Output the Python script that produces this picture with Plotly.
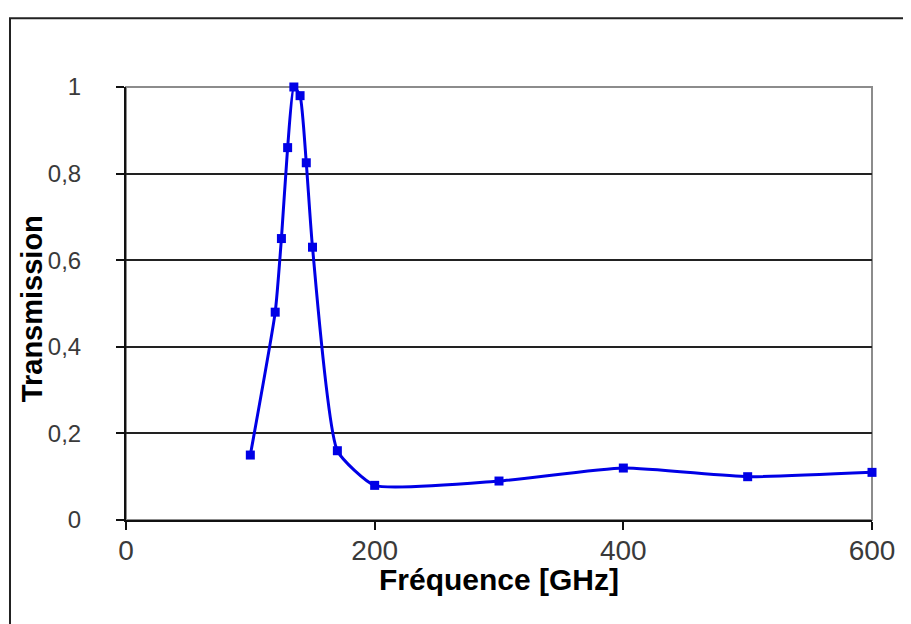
"""Transmission vs frequency — smoothed line with square markers."""

import plotly.graph_objects as go

freq_ghz = [100, 120, 125, 130, 135, 140, 145, 150, 170, 200, 300, 400, 500, 600]
transmission = [0.15, 0.48, 0.65, 0.86, 1.0, 0.98, 0.825, 0.63, 0.16, 0.08, 0.09, 0.12, 0.10, 0.11]

x_ticks = [0, 200, 400, 600]
y_ticks = [0, 0.2, 0.4, 0.6, 0.8, 1]

fig = go.Figure()

fig.add_trace(go.Scatter(
    x=freq_ghz, y=transmission, mode="lines+markers",
    line={"color": "#0000E6", "width": 3, "shape": "spline", "smoothing": 0.5},
    marker={"symbol": "square", "size": 9, "color": "#0000E6"},
    showlegend=False, cliponaxis=False,
))

# outer chart frame (partly cut off on right / bottom)
fig.add_shape(type="rect", xref="paper", yref="paper",
              x0=-0.1555, x1=1.07, y0=-0.27, y1=1.159,
              line={"color": "#222222", "width": 2}, layer="below")
# plot area frame (gray top / right)
fig.add_shape(type="rect", xref="paper", yref="paper",
              x0=0, x1=1, y0=0, y1=1,
              line={"color": "#8c8c8c", "width": 2}, layer="below")

title_font = {"family": "Liberation Sans, Arial", "size": 29, "color": "#000000"}

# axis titles
fig.add_annotation(text="<b>Fréquence [GHz]</b>", xref="paper", yref="paper",
                   x=0.5, y=-0.138, xanchor="center", yanchor="middle",
                   showarrow=False, font={**title_font, "size": 30})
fig.add_annotation(text="<b>Transmission</b>", xref="paper", yref="paper",
                   x=-0.1260, y=0.487, xanchor="center", yanchor="middle",
                   textangle=-90, showarrow=False, font=title_font)

fig.update_layout(
    width=911, height=624,
    # page body adds 8px offset, margins compensate for it
    margin={"l": 118, "r": 47, "t": 79, "b": 112},
    paper_bgcolor="white", plot_bgcolor="white",
    separators=", ",
    xaxis={
        "range": [0, 600], "tickvals": x_ticks, "showgrid": False, "zeroline": False,
        "showline": True, "linecolor": "#111111", "linewidth": 2,
        "ticks": "outside", "ticklen": 8, "tickwidth": 2, "tickcolor": "#111111",
        "tickfont": {"family": "Liberation Sans, Arial", "size": 28, "color": "#3a3a3a"},
        "ticklabelstandoff": -4,
    },
    yaxis={
        "range": [0, 1], "tickvals": y_ticks, "zeroline": False,
        "showgrid": True, "gridcolor": "#222222", "gridwidth": 1.5,
        "showline": True, "linecolor": "#111111", "linewidth": 2,
        "ticks": "outside", "ticklen": 8, "tickwidth": 2, "tickcolor": "#111111",
        "tickfont": {"family": "Liberation Sans, Arial", "size": 24, "color": "#3a3a3a"},
        "ticklabelstandoff": 30,
    },
)

fig.write_html("out.html")
